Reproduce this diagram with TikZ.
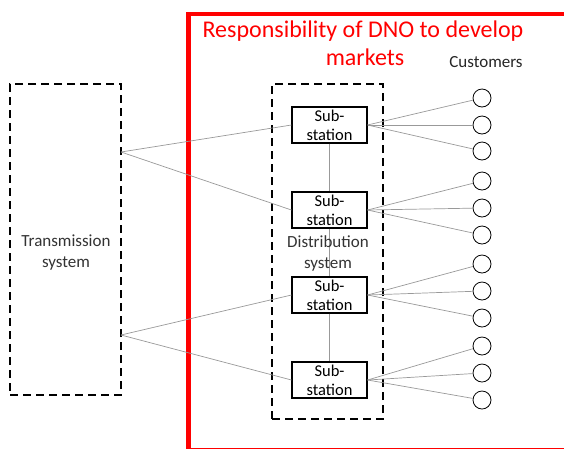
\documentclass[tikz,border=0pt]{standalone}
\usepackage{fontspec}
\setmainfont{Carlito}
\usetikzlibrary{positioning}
\tikzset{
  dashbox/.style={draw, line width=1.8pt, dash pattern=on 8pt off 5pt, inner sep=0pt},
  subbox/.style={draw, line width=1.1pt, minimum width=75pt, minimum height=36pt, inner sep=0pt, align=center, font=\fontsize{16.5}{19}\selectfont},
  cust/.style={draw, circle, minimum size=18pt, inner sep=0pt, line width=0.8pt},
  feeder/.style={draw=black!40, line width=0.7pt},
  syslbl/.style={font=\fontsize{17}{21}\selectfont, text=black!80, align=center}
}
\begin{document}
\begin{tikzpicture}[x=1pt,y=-1pt]
\useasboundingbox (0,0) rectangle (564,448);
%responsibility frame
\draw[red, line width=4.5pt] (188.5,14) rectangle (570,450);
\node[red, font=\fontsize{24}{28}\selectfont, anchor=base] (title) at (363,37) {Responsibility of DNO to develop};
\node[red, font=\fontsize{24}{28}\selectfont, anchor=base] (mkt) at (365,65) {markets};
%systems
\node[dashbox, minimum width=111pt, minimum height=311pt] (trans) at (65.5,239.5) {};
\node[dashbox, minimum width=111pt, minimum height=335pt] (dist) at (327.5,251.5) {};
\node[syslbl] (translbl) at (66,253) {Transmission\\system};
\coordinate (tapA) at (121,152);
\coordinate (tapB) at (121,335);
%substations
\node[subbox] (s1) at (329.5,125) {Sub-\\station};
\node[subbox] (s2) at (329.5,210) {Sub-\\station};
\node[subbox] (s3) at (329.5,295) {Sub-\\station};
\node[subbox] (s4) at (329.5,380) {Sub-\\station};
\draw[feeder] (s1) -- (s2);
\draw[feeder] (s2) -- (s3);
\draw[feeder] (s3) -- (s4);
\node[syslbl] (distlbl) at (328,253) {Distribution\\system};
\draw[feeder] (tapA) -- (s1.west);
\draw[feeder] (tapA) -- (s2.west);
\draw[feeder] (tapB) -- (s3.west);
\draw[feeder] (tapB) -- (s4.west);
%customers
\node[font=\fontsize{17}{20}\selectfont, text=black!85, anchor=base] (custlbl) at (486,67) {Customers};
\foreach \y [count=\i] in {98,125,151,181,208,235,264,291,318,346,373,400}
  \node[cust] (c\i) at (482,\y) {};
\foreach \i in {1,2,3} \draw[feeder] (s1.east) -- (c\i);
\foreach \i in {4,5,6} \draw[feeder] (s2.east) -- (c\i);
\foreach \i in {7,8,9} \draw[feeder] (s3.east) -- (c\i);
\foreach \i in {10,11,12} \draw[feeder] (s4.east) -- (c\i);
\end{tikzpicture}
\end{document}
